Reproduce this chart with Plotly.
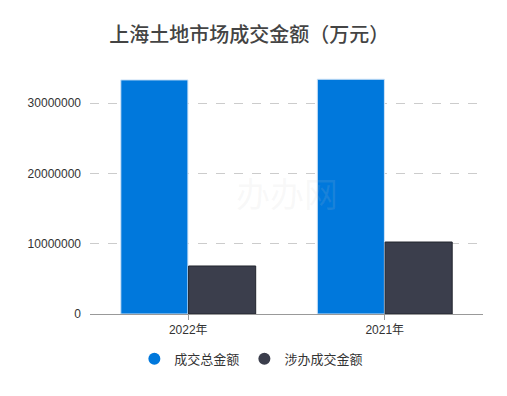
import plotly.graph_objects as go

categories = ["2022年", "2021年"]
total_values = [33300000, 33400000]
office_values = [6830000, 10240000]
series_names = ["成交总金额", "涉办成交金额"]
y_ticks = [0, 10000000, 20000000, 30000000]
y_tick_labels = ["0", "10000000", "20000000", "30000000"]

colors = ["#0078dc", "#3b3e4c"]
line_colors = ["#cfe3f7", "#22252e"]

fig = go.Figure()
for name, vals, c, lc in zip(series_names, [total_values, office_values], colors, line_colors):
    fig.add_trace(go.Bar(x=categories, y=vals, name=name, marker=dict(color=c, line=dict(color=lc, width=1)),
                         showlegend=False))
for name, c in zip(series_names, colors):
    fig.add_trace(go.Scatter(x=[None], y=[None], mode="markers", name=name,
                             marker=dict(symbol="circle", size=12, color=c)))

fig.update_layout(
    width=507, height=396,
    margin=dict(l=82, r=32, t=67, b=90, autoexpand=False),
    paper_bgcolor="white", plot_bgcolor="white",
    font=dict(family="Liberation Sans, Noto Sans CJK SC, sans-serif", size=12, color="#333"),
    title=dict(text="上海土地市场成交金额（万元）", x=0.476, xanchor="center", y=0.932, yanchor="middle",
               font=dict(family="Noto Sans CJK SC", size=20, color="#444", weight=500)),
    barmode="group", bargap=0.31, bargroupgap=0.01,
    legend=dict(orientation="h", xref="container", x=0.48, xanchor="center", y=-0.125, yanchor="top",
                font=dict(size=13, color="#333", family="Noto Sans CJK SC"), itemwidth=30),
    xaxis=dict(showline=True, linecolor="#999", linewidth=1, ticks="outside", ticklen=5, tickcolor="#999",
               tickfont=dict(size=12, color="#333"), automargin=False),
    yaxis=dict(range=[0, 34000000], tickvals=y_ticks, ticktext=y_tick_labels, showgrid=True,
               gridcolor="#ccc", griddash="dash", zeroline=False, showline=False,
               tickfont=dict(size=12, color="#333"), ticks="", ticklabelstandoff=8, automargin=False),
)
fig.add_annotation(text="办办网", x=0.5, y=0.5, xref="paper", yref="paper", showarrow=False,
                   font=dict(size=34, color="rgba(200,200,200,0.12)"))
fig.write_html("out.html")
